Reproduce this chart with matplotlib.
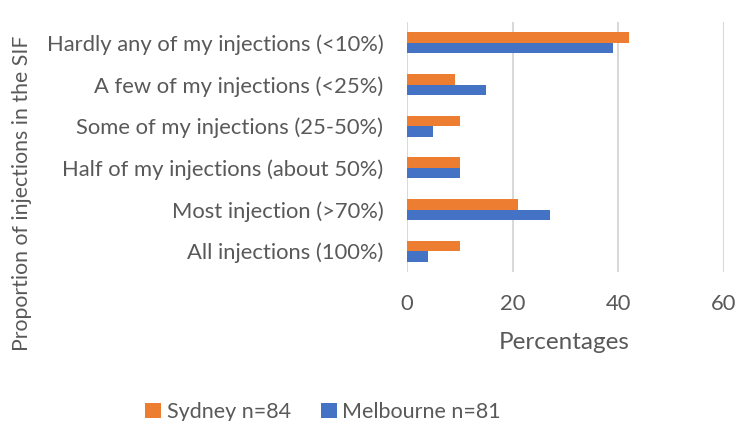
import matplotlib
matplotlib.use("Agg")
from matplotlib import pyplot as plt
import numpy as np

categories = [
    "Hardly any of my injections (<10%)",
    "A few of my injections (<25%)",
    "Some of my injections (25-50%)",
    "Half of my injections (about 50%)",
    "Most injection (>70%)",
    "All injections (100%)",
]
sydney = [42, 9, 10, 10, 21, 10]
melbourne = [39, 15, 5, 10, 27, 4]
series_labels = ["Sydney n=84", "Melbourne n=81"]
x_ticks = [0, 20, 40, 60]

text_color = "#595959"
plt.rcParams["font.family"] = ["Lato", "DejaVu Sans"]

fig = plt.figure(figsize=(7.5, 4.21), dpi=100)
ax = fig.add_axes([407 / 750, 1 - 272 / 421, 317 / 750, 250 / 421])

y = np.arange(len(categories))
h = 0.25
ax.barh(y - h / 2, sydney, height=h, color="#ED7D31", label=series_labels[0], zorder=3)
ax.barh(y + h / 2, melbourne, height=h, color="#4472C4", label=series_labels[1], zorder=3)

ax.set_ylim(len(categories) - 0.5, -0.5)
ax.set_xlim(0, 60)
ax.set_xticks(x_ticks)
ax.set_yticks(y)
ax.set_yticklabels(categories)
ax.grid(axis="x", color="#d9d9d9", linewidth=1.5, zorder=0)
for s in ax.spines.values():
    s.set_visible(False)
ax.tick_params(axis="both", length=0, labelsize=15.8, colors=text_color)
ax.tick_params(axis="x", pad=16)
ax.tick_params(axis="y", pad=17)

ax.set_xlabel("Percentages", fontsize=17.5, color=text_color)
ax.xaxis.set_label_coords(0.495, -0.24)
ax.set_ylabel("Proportion of injections in the SIF", fontsize=15.3, color=text_color)
ax.yaxis.set_label_coords(-1.183, 0.316)

fig.legend(loc="center", bbox_to_anchor=(323 / 750, 1 - 412 / 421), ncol=2,
           frameon=False, fontsize=15.5, labelcolor=text_color,
           handlelength=0.75, handleheight=0.75, handletextpad=0.25, columnspacing=1.4)

fig.savefig("out.png", dpi=100)
